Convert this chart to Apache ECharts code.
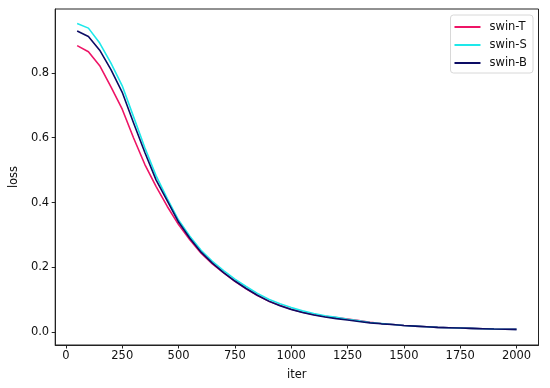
<!DOCTYPE html>
<html>
<head>
<meta charset="utf-8">
<script src="https://cdn.jsdelivr.net/npm/echarts@6/dist/echarts.min.js"></script>
<style>html,body{margin:0;padding:0;background:#fff;}#c{width:550px;height:388px;}</style>
</head>
<body>
<div id="c"></div>
<script>
const iters = [50,100,150,200,250,300,350,400,450,500,550,600,650,700,750,800,850,900,950,1000,1050,1100,1150,1200,1250,1300,1350,1400,1450,1500,1550,1600,1650,1700,1750,1800,1850,1900,1950,2000];
const swinT = [0.884,0.865,0.822,0.757,0.688,0.600,0.518,0.450,0.388,0.332,0.285,0.244,0.211,0.183,0.157,0.134,0.113,0.096,0.083,0.071,0.062,0.055,0.049,0.045,0.041,0.036,0.031,0.027,0.024,0.021,0.019,0.017,0.015,0.014,0.013,0.012,0.011,0.010,0.0095,0.009];
const swinS = [0.952,0.938,0.892,0.830,0.760,0.665,0.570,0.483,0.412,0.346,0.296,0.253,0.219,0.190,0.164,0.141,0.120,0.102,0.088,0.076,0.066,0.058,0.051,0.046,0.040,0.035,0.030,0.027,0.024,0.021,0.019,0.017,0.015,0.014,0.013,0.012,0.011,0.010,0.0095,0.009];
const swinB = [0.929,0.912,0.870,0.810,0.740,0.646,0.555,0.470,0.405,0.340,0.290,0.247,0.213,0.184,0.158,0.135,0.114,0.096,0.082,0.070,0.061,0.053,0.047,0.042,0.038,0.033,0.029,0.026,0.024,0.021,0.019,0.017,0.015,0.014,0.013,0.012,0.011,0.010,0.0095,0.009];
const seriesNames = ['swin-T','swin-S','swin-B'];
const seriesColors = ['#ee1466','#1ee8ea','#0c0c64'];
const xTicks = [0,250,500,750,1000,1250,1500,1750,2000];
const yTicks = [0.0,0.2,0.4,0.6,0.8];

const font = 'DejaVu Sans';
const vals = [swinT, swinS, swinB];
const chart = echarts.init(document.getElementById('c'), null, {renderer:'canvas'});
chart.setOption({
  animation:false,
  backgroundColor:'#fff',
  grid:{left:51,right:11.5,top:9,bottom:43,show:true,borderColor:'#222',borderWidth:1,backgroundColor:'transparent'},
  legend:{
    orient:'vertical', right:17, top:15,
    backgroundColor:'#fff', borderColor:'#d8d8d8', borderWidth:1, borderRadius:3,
    padding:[6,6,4,4], itemGap:6, itemWidth:26, itemHeight:2, icon:'rect',
    textStyle:{fontFamily:font,fontSize:11.5,color:'#111',padding:[0,0,0,4]},
    data:seriesNames
  },
  xAxis:{
    type:'value', min:-47.5, max:2097.5,
    name:'iter', nameLocation:'middle', nameGap:24,
    nameTextStyle:{fontFamily:font,fontSize:11.5,color:'#111'},
    axisLine:{show:true,onZero:false,lineStyle:{color:'#222',width:1}},
    axisTick:{show:true,length:3.5,customValues:xTicks,lineStyle:{color:'#222'}},
    axisLabel:{customValues:xTicks,fontFamily:font,fontSize:11.5,color:'#111',margin:5,
      formatter:v=>String(v)},
    splitLine:{show:false}
  },
  yAxis:{
    type:'value', min:-0.0393, max:0.997,
    name:'loss', nameLocation:'middle', nameGap:35, nameRotate:90,
    nameTextStyle:{fontFamily:font,fontSize:11.5,color:'#111'},
    axisLine:{show:true,onZero:false,lineStyle:{color:'#222',width:1}},
    axisTick:{show:true,length:3.5,customValues:yTicks,lineStyle:{color:'#222'}},
    axisLabel:{customValues:yTicks,fontFamily:font,fontSize:11.5,color:'#111',margin:6,
      formatter:v=>v.toFixed(1)},
    splitLine:{show:false}
  },
  series: seriesNames.map((n,i)=>({
    name:n, type:'line', showSymbol:false, symbol:'none',
    color:seriesColors[i],
    lineStyle:{width:1.6,color:seriesColors[i]},
    data: iters.map((x,j)=>[x, vals[i][j]])
  }))
});
</script>
</body>
</html>
